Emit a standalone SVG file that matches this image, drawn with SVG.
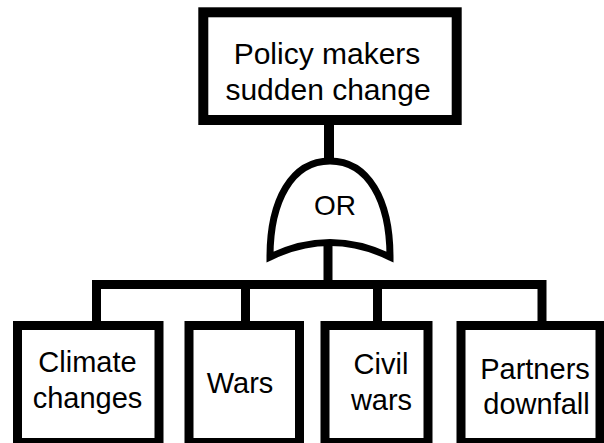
<svg xmlns="http://www.w3.org/2000/svg" width="604" height="443" viewBox="0 0 604 443">
<style>
.box{fill:#fff;stroke:#000;stroke-width:9}
.gate{fill:#fff;stroke:#000;stroke-width:7;stroke-linejoin:miter}
.wire{fill:none;stroke:#000;stroke-width:9}
text{font-family:"Liberation Sans",Arial,sans-serif;font-size:29px;fill:#000;text-anchor:middle}
</style>
<rect width="604" height="443" fill="#fff"/>
<g id="connectors">
<line class="wire" x1="329" y1="120" x2="329" y2="162" style="stroke-width:10"/>
<line class="wire" x1="328" y1="240" x2="328" y2="285"/>
<polyline class="wire" points="96.5,322 96.5,284.5 542,284.5 542,322"/>
<line class="wire" x1="245.5" y1="284.5" x2="245.5" y2="322"/>
<line class="wire" x1="377.5" y1="284.5" x2="377.5" y2="322"/>
</g>
<g id="top">
<rect class="box" x="203.3" y="12.3" width="253.4" height="107.7" style="stroke-width:10"/>
<text x="327" y="63.5" style="font-size:30px">Policy makers</text>
<text x="328" y="99.5" style="font-size:30px">sudden change</text>
</g>
<g id="or-gate">
<path class="gate" d="M270,257 C270,200 292,161 330,161 C368,161 390,200 390,257 Q330,228 270,257 Z"/>
<text x="335" y="215" style="font-size:28px">OR</text>
</g>
<g id="climate">
<rect class="box" x="17.5" y="325.5" width="141.5" height="117"/>
<text x="87.5" y="372">Climate</text>
<text x="87.5" y="408">changes</text>
</g>
<g id="wars">
<rect class="box" x="189" y="325.5" width="110.5" height="117"/>
<text x="240" y="393">Wars</text>
</g>
<g id="civil">
<rect class="box" x="325" y="325.5" width="103" height="117"/>
<text x="381" y="374">Civil</text>
<text x="381.5" y="410">wars</text>
</g>
<g id="partners">
<rect class="box" x="461" y="325.5" width="139" height="117"/>
<text x="535" y="378.5">Partners</text>
<text x="536.5" y="413.5">downfall</text>
</g>
</svg>
